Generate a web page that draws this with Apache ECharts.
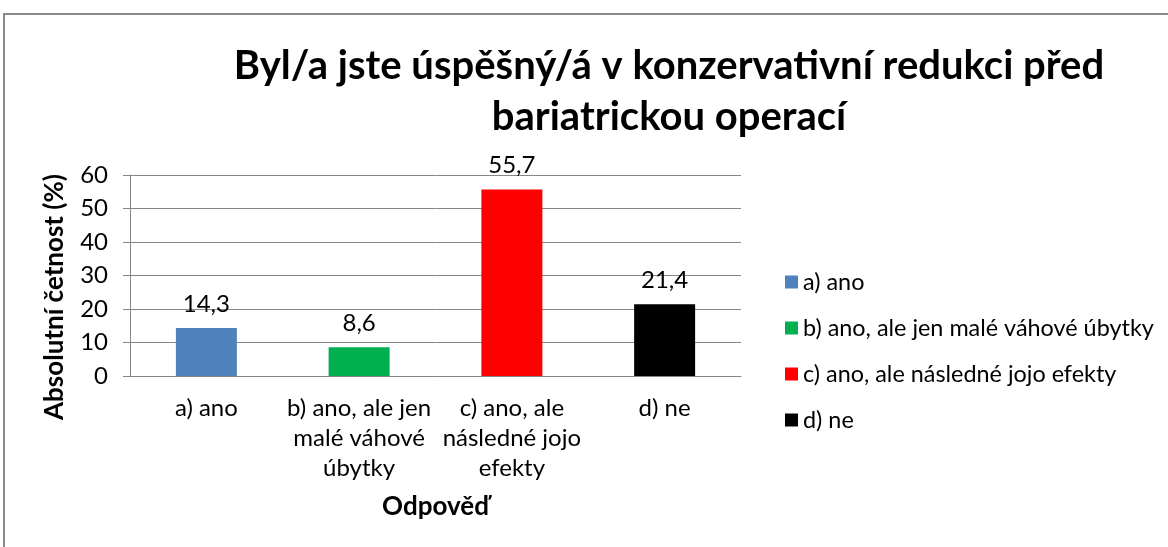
<!DOCTYPE html>
<html>
<head>
<meta charset="utf-8">
<script src="https://cdn.jsdelivr.net/npm/echarts@6/dist/echarts.min.js"></script>
<style>
    html, body { margin: 0; padding: 0; background: #fff; }
    #main { width: 1168px; height: 547px; }
</style>
</head>
<body>
<div id="main"></div>
<script>
// odpovedi
var categories = ['a) ano', 'b) ano, ale jen malé váhové úbytky', 'c) ano, ale následné jojo efekty', 'd) ne'];
var tickLabels = ['a) ano', 'b) ano, ale jen\nmalé váhové\núbytky', 'c) ano, ale\nnásledné jojo\nefekty', 'd) ne'];
var values = [14.3, 8.6, 55.7, 21.4];
var colors = ['#4F81BD', '#00B050', '#FF0000', '#000000'];
var yTicks = [0, 60, 10];

(function () {
    var myChart = echarts.init(document.getElementById('main'));
    var font = 'Lato, Carlito, Calibri, sans-serif';

    // kazda odpoved je vlastni serie, aby legenda mela 4 polozky
    var series = categories.map(function (name, i) {
        var d = values.map(function (v, j) { return j === i ? v : '-'; });
        return {
            name: name,
            type: 'bar',
            stack: 'a',
            barWidth: 61,
            data: d,
            itemStyle: { color: colors[i] },
            label: {
                show: true,
                position: 'top',
                distance: 12,
                color: '#000',
                fontFamily: font,
                fontSize: 24,
                formatter: function (p) { return String(p.value).replace('.', ','); }
            }
        };
    });

    option = {
        animation: false,
        color: colors,
        title: {
            text: 'Byl/a jste úspěšný/á v konzervativní redukci před\nbariatrickou operací',
            left: 664,
            top: 36,
            textAlign: 'center',
            textStyle: {
                fontFamily: font,
                fontSize: 40,
                fontWeight: 'bold',
                color: '#000',
                lineHeight: 51
            }
        },
        legend: {
            orient: 'vertical',
            left: 780,
            top: 264,
            itemWidth: 13,
            itemHeight: 13,
            itemGap: 20,
            icon: 'rect',
            data: categories,
            textStyle: {
                fontFamily: font,
                fontSize: 23.4,
                lineHeight: 26,
                color: '#000'
            }
        },
        grid: {
            left: 130,
            right: 427,
            top: 175,
            bottom: 171
        },
        xAxis: {
            type: 'category',
            data: categories,
            name: 'Odpověď',
            nameLocation: 'middle',
            nameGap: 118,
            nameTextStyle: {
                fontFamily: font,
                fontSize: 26,
                fontWeight: 'bold',
                color: '#000'
            },
            axisLine: { lineStyle: { color: '#868686', width: 1 } },
            axisTick: { show: false },
            axisLabel: {
                interval: 0,
                margin: 17,
                fontFamily: font,
                fontSize: 24,
                lineHeight: 30,
                color: '#000',
                formatter: function (v, i) { return tickLabels[i]; }
            }
        },
        yAxis: {
            type: 'value',
            min: yTicks[0],
            max: yTicks[1],
            interval: yTicks[2],
            name: 'Absolutní četnost (%)',
            nameLocation: 'middle',
            nameGap: 62,
            nameTextStyle: {
                fontFamily: font,
                fontSize: 26,
                fontWeight: 'bold',
                color: '#000',
                padding: [0, 43, 0, 0]
            },
            axisLine: { show: true, lineStyle: { color: '#868686', width: 1 } },
            axisTick: { show: true, length: 7, lineStyle: { color: '#868686' } },
            axisLabel: {
                margin: 22,
                fontFamily: font,
                fontSize: 24,
                color: '#000'
            },
            splitLine: { lineStyle: { color: '#868686', width: 1 } }
        },
        graphic: [
            {
                type: 'rect',
                shape: { x: 4, y: 14, width: 1200, height: 600 },
                style: { fill: 'none', stroke: '#8a8a8a', lineWidth: 2 },
                z: -1
            }
        ],
        series: series
    };
    myChart.setOption(option);
})()
</script>
</body>
</html>
